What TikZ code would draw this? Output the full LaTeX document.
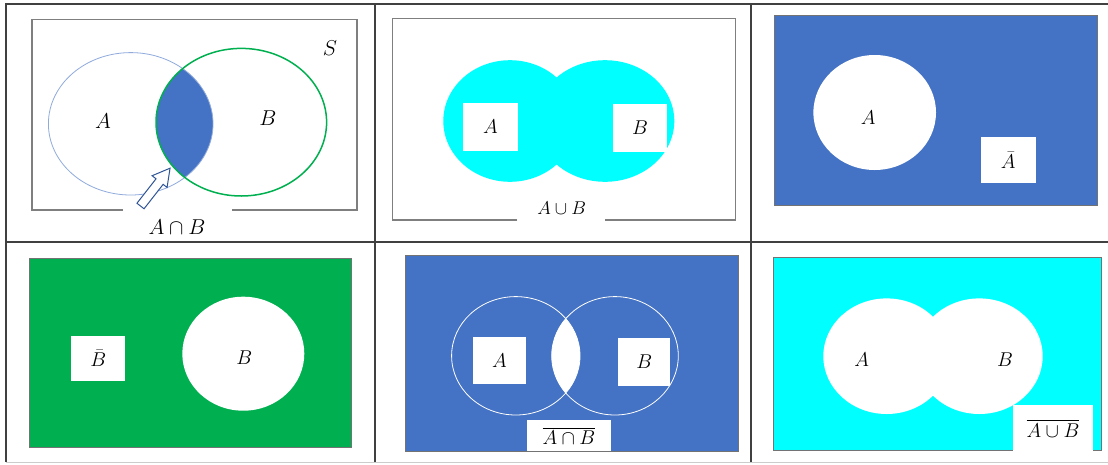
\RequirePackage{fix-cm}
\documentclass[tikz,border=0pt]{standalone}
\usepackage{amsmath}
\definecolor{setblue}{HTML}{4472C4}
\definecolor{setgreen}{HTML}{00B050}
\definecolor{setcyan}{HTML}{00FFFF}
\definecolor{outlineA}{HTML}{8FAADC}
\definecolor{arrowblue}{HTML}{2F5597}
\definecolor{gridgray}{HTML}{404040}
\definecolor{framegray}{HTML}{7F7F7F}
\begin{document}
\begin{tikzpicture}[x=1pt,y=-1pt,
  gridline/.style={draw=gridgray,line width=1.5pt},
  universe/.style={draw=framegray,line width=1.3pt},
  panelrect/.style={draw=black!55,line width=0.7pt},
  setlbl/.style={font=\fontsize{20}{24}\selectfont,inner sep=0pt},
  biglbl/.style={font=\fontsize{21.5}{25}\selectfont,inner sep=0pt},
  whitebox/.style={setlbl,fill=white,draw=none,inner sep=0pt}]
\useasboundingbox (0,0) rectangle (1108,464);
\fill[white] (0,0) rectangle (1108,464);

% ---------- table grid ----------
\draw[gridline] (1108,4) -- (6,4) -- (6,462);
\draw[gridline] (6,242) -- (1108,242);
\draw[gridline] (375,4) -- (375,462);
\draw[gridline] (751,4) -- (751,462);
\draw[draw=black!20,line width=1pt] (6,462.5) -- (1108,462.5);

% ---------- panel 1: A intersect B ----------
\draw[universe] (123,210) -- (32,210) -- (32,19.3) -- (357,19.3) -- (357,210) -- (232,210);
\begin{scope}
  \clip (130.7,123.8) ellipse [x radius=82.3,y radius=71.2];
  \fill[setblue] (241.3,122.2) ellipse [x radius=85.3,y radius=73.8];
\end{scope}
\draw[outlineA,line width=0.8pt] (130.7,123.8) ellipse [x radius=82.3,y radius=71.2];
\draw[setgreen,line width=1.5pt] (241.3,122.2) ellipse [x radius=85.3,y radius=73.8];
\node[biglbl] (s1) at (330,48) {$S$};
\node[biglbl] (a1) at (103,121) {$A$};
\node[biglbl] (b1) at (268,118) {$B$};
\node[biglbl] (ab1) at (177,227) {$A\cap B$};
% hollow block arrow pointing at the shaded lens
\begin{scope}[shift={(140.5,206)},rotate=52]
  \draw[arrowblue,fill=white,line width=1pt,line join=miter]
    (0,-4.5) -- (31,-4.5) -- (31,-9.5) -- (48,0) -- (31,9.5) -- (31,4.5) -- (0,4.5) -- cycle;
\end{scope}

% ---------- panel 2: A union B ----------
\draw[universe] (517.3,220) -- (392.3,220) -- (392.3,18.3) -- (735.7,18.3) -- (735.7,220) -- (605,220);
\fill[setcyan] (510,121) ellipse [x radius=66.7,y radius=60.8];
\fill[setcyan] (605,121) ellipse [x radius=69.3,y radius=60.8];
\node[whitebox,minimum width=54.4pt,minimum height=48pt] (a2) at (490.5,126.7) {$A$};
\node[whitebox,minimum width=53.4pt,minimum height=47.7pt] (b2) at (640,127.8) {$B$};
\node[setlbl,font=\fontsize{18.5}{22}\selectfont] (ab2) at (561.7,208) {$A\cup B$};

% ---------- panel 3: complement of A ----------
\filldraw[fill=setblue,panelrect] (774,15) rectangle (1097.3,205);
\fill[white] (874.7,112.5) ellipse [x radius=61.3,y radius=57.5];
\node[setlbl] (a3) at (868.3,117.5) {$A$};
\node[whitebox,minimum width=54.7pt,minimum height=46pt] (ac3) at (1008.3,160.3) {$\bar{A}$};

% ---------- panel 4: complement of B ----------
\filldraw[fill=setgreen,panelrect] (29,258.3) rectangle (351,447.7);
\fill[white] (243.3,353.7) ellipse [x radius=61,y radius=57];
\node[setlbl] (b4) at (244.3,357.5) {$B$};
\node[whitebox,minimum width=54.3pt,minimum height=45.3pt] (bc4) at (98.2,358.7) {$\bar{B}$};

% ---------- panel 5: complement of A intersect B ----------
\filldraw[fill=setblue,panelrect] (405.7,255.7) rectangle (738.3,451);
\begin{scope}
  \clip (515.8,355.8) ellipse [x radius=64.2,y radius=59.2];
  \fill[white] (615,355.8) ellipse [x radius=63.3,y radius=59.2];
\end{scope}
\draw[white,line width=0.8pt] (515.8,355.8) ellipse [x radius=64.2,y radius=59.2];
\draw[white,line width=0.8pt] (615,355.8) ellipse [x radius=63.3,y radius=59.2];
\node[whitebox,minimum width=52.4pt,minimum height=47.3pt] (a5) at (499.5,360.3) {$A$};
\node[whitebox,minimum width=51.7pt,minimum height=48pt] (b5) at (644.2,361.7) {$B$};
\node[whitebox,minimum width=84.3pt,minimum height=31.5pt] (ab5) at (568.9,435.7) {$\overline{A\cap B}$};

% ---------- panel 6: complement of A union B ----------
\filldraw[fill=setcyan,panelrect] (773.3,257.3) rectangle (1101,450.7);
\fill[white] (886.7,356.2) ellipse [x radius=63.4,y radius=57.8];
\fill[white] (979.3,356.2) ellipse [x radius=63.4,y radius=57.8];
\node[setlbl] (a6) at (861.7,360) {$A$};
\node[setlbl] (b6) at (1005,360) {$B$};
\node[whitebox,minimum width=80.6pt,minimum height=45.5pt] (ab6) at (1053,428.2) {$\overline{A\cup B}$};
\end{tikzpicture}
\end{document}
